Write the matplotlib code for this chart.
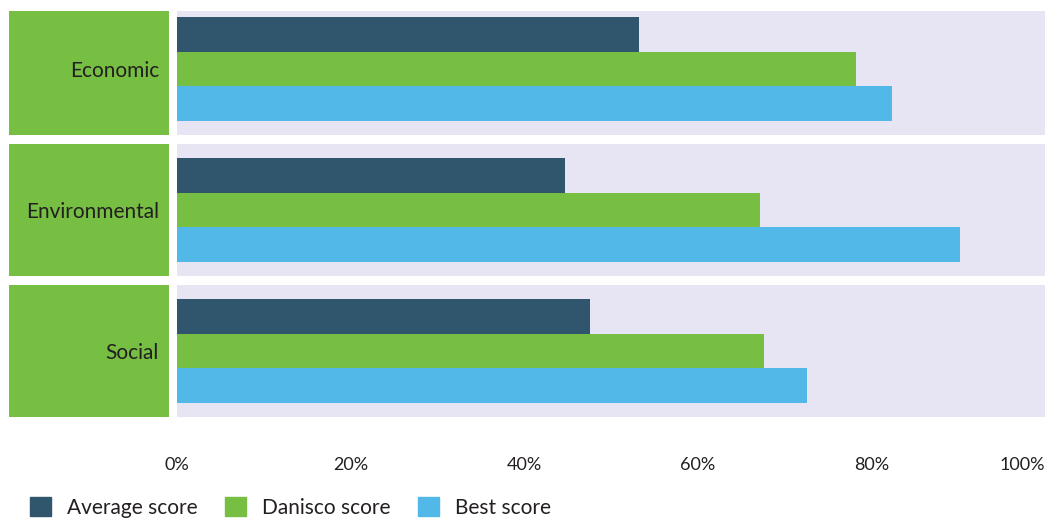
import matplotlib
matplotlib.use("Agg")
import matplotlib.pyplot as plt
import matplotlib.patches as patches
import numpy as np

plt.rcParams['font.family'] = ['Lato', 'DejaVu Sans']

categories = ['Economic', 'Environmental', 'Social']
average_score = [53.2, 44.7, 47.6]
danisco_score = [78.2, 67.2, 67.6]
best_score = [82.4, 90.2, 72.6]
x_ticks = [0, 20, 40, 60, 80, 100]
x_tick_labels = ['0%', '20%', '40%', '60%', '80%', '100%']
series_names = ['Average score', 'Danisco score', 'Best score']

c_dark = '#30566E'
c_green = '#76BF43'
c_blue = '#52B8E8'
c_panel = '#E7E5F3'
c_text = '#231F20'

W, H = 1047, 522
fig = plt.figure(figsize=(W / 100, H / 100), dpi=100)

bottom = (H - 417) / H
height = 406 / H
ax = fig.add_axes([177 / W, bottom, 868 / W, height])
ax_lab = fig.add_axes([9 / W, bottom, 160 / W, height], sharey=ax)

spacing = 4.067   # group distance in bar heights
half = 1.904      # half height of a panel
centers = np.arange(len(categories)) * spacing

for c in centers:
    ax.axhspan(c - half, c + half, color=c_panel, lw=0, zorder=0)
    ax_lab.axhspan(c - half, c + half, color=c_green, lw=0, zorder=0)

ax.barh(centers - 1, average_score, height=1.0, color=c_dark, zorder=2)
ax.barh(centers, danisco_score, height=1.0, color=c_green, zorder=2)
ax.barh(centers + 1, best_score, height=1.0, color=c_blue, zorder=2)

ax.set_xlim(0, 100)
ax.set_ylim(centers[-1] + half, -1.673)

ax.set_xticks(x_ticks)
ax.set_xticklabels(x_tick_labels, fontsize=13, color=c_text)
ax.get_xticklabels()[-1].set_ha('right')
ax.tick_params(axis='x', length=0, pad=29)
ax.tick_params(axis='y', left=False, labelleft=False)
for s in ax.spines.values():
    s.set_visible(False)

ax_lab.set_xlim(0, 160)
for c, name in zip(centers, categories):
    ax_lab.text(150, c, name, ha='right', va='center_baseline', fontsize=15, color=c_text)
ax_lab.axis('off')

handles = [patches.Patch(color=col) for col in (c_dark, c_green, c_blue)]
fig.legend(handles, series_names, loc='lower left', bbox_to_anchor=(26 / W, 0.0),
           ncol=3, frameon=False, fontsize=15, handlelength=1.0, handleheight=1.0,
           handletextpad=0.75, columnspacing=1.35, borderpad=0.2, borderaxespad=0,
           labelcolor=c_text)

fig.savefig('out.png', dpi=100)
